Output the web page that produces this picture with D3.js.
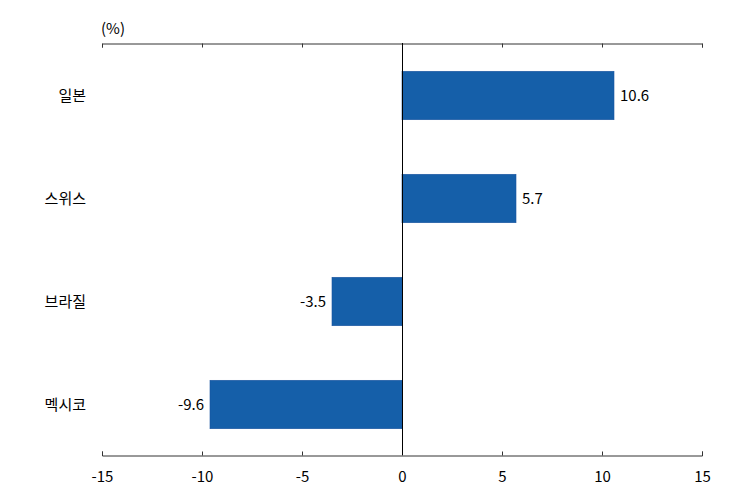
<!DOCTYPE html>
<html><head><meta charset="utf-8">
<script src="https://cdn.jsdelivr.net/npm/d3@7"></script>
<style>body{margin:0;background:#fff}svg text{font-family:"Noto Sans CJK KR","Noto Sans",sans-serif;}</style>
</head><body><svg id="c" width="750" height="487"></svg>
<script>
const categories = ["일본","스위스","브라질","멕시코"];
const values = [10.6, 5.7, -3.5, -9.6];
const tickValues = [-15,-10,-5,0,5,10,15];
const unitLabel = "(%)";

const svg = d3.select("#c");
const x = d3.scaleLinear().domain([-15,15]).range([102,702]);
const y = d3.scaleBand().domain(categories).range([44,456]).paddingInner(0.53).paddingOuter(0.265);

// top axis line
svg.append("g").attr("transform","translate(0,43.5)")
  .call(d3.axisBottom(x).tickValues(tickValues).tickSize(4).tickFormat(""))
  .call(g=>g.select(".domain").attr("stroke","#333"))
  .call(g=>g.selectAll(".tick line").attr("stroke","#333"));
// bottom axis
const bx = svg.append("g").attr("transform","translate(0,455.5)")
  .call(d3.axisTop(x).tickValues(tickValues).tickSize(4).tickFormat(d=>d));
bx.select(".domain").attr("stroke","#333");
bx.selectAll(".tick line").attr("stroke","#333");
bx.selectAll(".tick text").attr("y",21).attr("dy","0.35em").attr("font-size",15).attr("fill","#000")
  .style("font-family","'Noto Sans CJK KR',sans-serif");

// bars
svg.selectAll("rect.bar").data(values).join("rect").attr("class","bar")
  .attr("x",d=>x(Math.min(0,d))).attr("width",d=>Math.abs(x(d)-x(0)))
  .attr("y",(d,i)=>y(categories[i])).attr("height",y.bandwidth())
  .attr("fill","#155fa9").attr("stroke","#1a55a0").attr("stroke-width",0.6);

// zero line
svg.append("line").attr("x1",x(0)+0.5).attr("x2",x(0)+0.5).attr("y1",43).attr("y2",455)
  .attr("stroke","#000").attr("stroke-width",1);

// value labels
svg.selectAll("text.val").data(values).join("text").attr("class","val")
  .attr("x",d=>d>=0?x(d)+6:x(d)-6)
  .attr("y",(d,i)=>y(categories[i])+y.bandwidth()/2)
  .attr("dy","0.35em").attr("text-anchor",d=>d>=0?"start":"end")
  .attr("font-size",15).attr("fill","#000").text(d=>d);

// category labels
svg.selectAll("text.cat").data(categories).join("text").attr("class","cat")
  .attr("x",86).attr("y",d=>y(d)+y.bandwidth()/2).attr("dy","0.35em")
  .attr("text-anchor","end").attr("font-size",15).attr("fill","#000").text(d=>d);

svg.append("text").attr("x",101).attr("y",34).attr("font-size",15).attr("fill","#000").text(unitLabel);
</script></body></html>
